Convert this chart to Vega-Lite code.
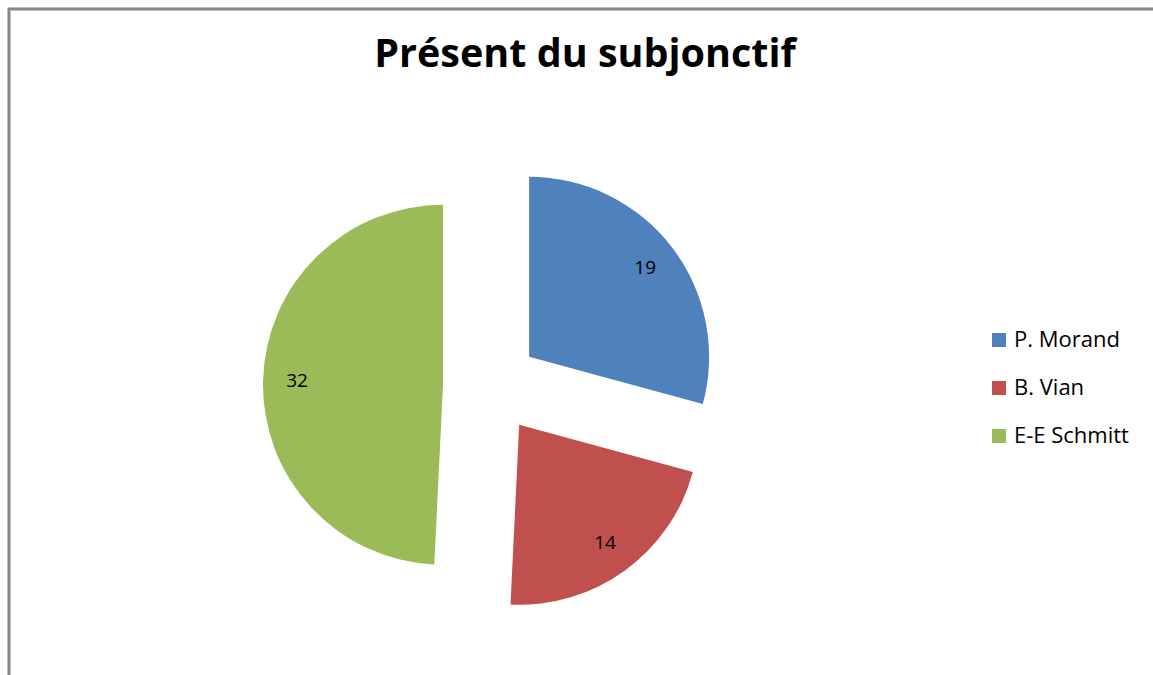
{
  "$schema": "https://vega.github.io/schema/vega-lite/v6.json",
  "autosize": "none",
  "width": 1144,
  "height": 666,
  "padding": {"left": 9, "top": 9, "right": 0, "bottom": 0},
  "background": "white",
  "config": {
    "view": {"stroke": null},
    "font": "Open Sans"
  },
  "title": {
    "text": "Présent du subjonctif",
    "font": "Open Sans",
    "fontSize": 39.5,
    "fontWeight": "bold",
    "color": "#000000",
    "anchor": "middle",
    "frame": "group",
    "baseline": "alphabetic",
    "offset": -99,
    "dx": 4
  },
  "layer": [
    {
      "data": {"values": [{}]},
      "mark": {"type": "rect", "fill": null, "stroke": "#868686", "strokeWidth": 3},
      "encoding": {
        "x": {"value": 0},
        "y": {"value": 0},
        "x2": {"value": 1400},
        "y2": {"value": 900}
      }
    },
    {
      "data": {
        "values": [
          {"author": "P. Morand", "value": 19},
          {"author": "B. Vian", "value": 14},
          {"author": "E-E Schmitt", "value": 32}
        ]
      },
      "transform": [
        {"stack": "value", "groupby": [], "as": ["start", "end"]}
      ],
      "layer": [
        {
          "transform": [{"filter": "datum.author === 'P. Morand'"}],
          "mark": {"type": "arc", "radius": 180, "xOffset": -51.9, "yOffset": 14.8},
          "encoding": {
            "theta": {"field": "start", "type": "quantitative", "scale": {"domain": [0, 65]}},
            "theta2": {"field": "end"},
            "color": {
              "field": "author", "type": "nominal",
              "scale": {"domain": ["P. Morand", "B. Vian", "E-E Schmitt"], "range": ["#4F81BD", "#C0504D", "#9BBB59"]},
              "legend": {
                "title": null,
                "orient": "none",
                "legendX": 979,
                "legendY": 320,
                "symbolType": "square",
                "symbolSize": 196,
                "symbolStrokeWidth": 0,
                "labelFont": "Open Sans",
                "labelFontSize": 22,
                "labelColor": "#000000",
                "labelOffset": 4,
                "rowPadding": 26,
                "padding": 0
              }
            }
          }
        },
        {
          "transform": [{"filter": "datum.author === 'B. Vian'"}],
          "mark": {"type": "arc", "radius": 180, "xOffset": -61.8, "yOffset": 82.8},
          "encoding": {
            "theta": {"field": "start", "type": "quantitative", "scale": {"domain": [0, 65]}},
            "theta2": {"field": "end"},
            "color": {"field": "author", "type": "nominal"}
          }
        },
        {
          "transform": [{"filter": "datum.author === 'E-E Schmitt'"}],
          "mark": {"type": "arc", "radius": 180, "xOffset": -138, "yOffset": 42.8},
          "encoding": {
            "theta": {"field": "start", "type": "quantitative", "scale": {"domain": [0, 65]}},
            "theta2": {"field": "end"},
            "color": {"field": "author", "type": "nominal"}
          }
        },
        {
          "mark": {"type": "text", "radius": 194, "xOffset": -90, "yOffset": 44, "fontSize": 19, "font": "Open Sans", "color": "#000000"},
          "encoding": {
            "theta": {"field": "value", "type": "quantitative", "stack": true, "scale": {"domain": [0, 65]}},
            "order": {"field": "start", "type": "quantitative"},
            "text": {"field": "value", "type": "quantitative"}
          }
        }
      ]
    }
  ],
  "resolve": {"scale": {"theta": "shared"}}
}
